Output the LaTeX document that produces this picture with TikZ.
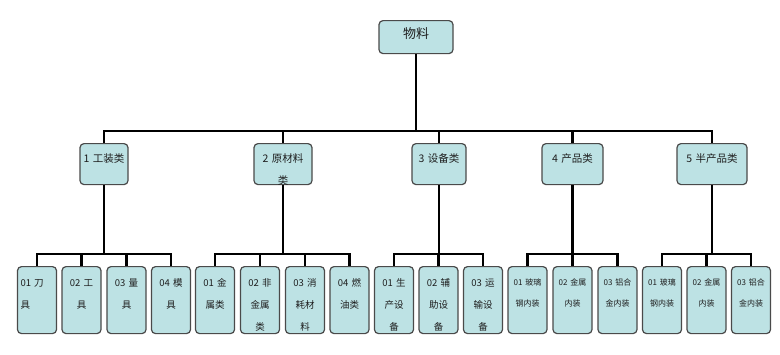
\documentclass[tikz,border=0pt]{standalone}
\usepackage{fontspec}
\setmainfont{Liberation Sans}
\newfontfamily\cjk{Noto Sans CJK SC}
\definecolor{boxblue}{HTML}{BDE2E4}
\definecolor{boxline}{HTML}{4A4A4A}
\definecolor{boxtext}{HTML}{1E1E1E}

\begin{document}
\begin{tikzpicture}[x=1pt,y=-1pt,
    box/.style={draw=boxline, fill=boxblue, line width=1.2pt, rounded corners=4pt,
      text=boxtext, align=center, inner xsep=1pt, inner ysep=0pt, anchor=north},
    rootbox/.style={box, text width=72pt, text height=17.5pt, text depth=15.5pt,
      font=\cjk\fontsize{13}{15}\selectfont},
    catbox/.style={box, text height=19pt, text depth=22pt,
      font=\cjk\fontsize{10.5}{22}\selectfont},
    leafbox/.style={box, text width=37pt, text height=20pt, text depth=47pt,
      font=\cjk\fontsize{9.5}{22}\selectfont},
    smallleaf/.style={leafbox, text height=19pt, text depth=48pt,
      font=\cjk\fontsize{8}{21}\selectfont},
    wire/.style={draw=black, line width=2.4pt}]
  \useasboundingbox (0,0) rectangle (780,354);

  % top
  \node[rootbox] (root) at (416,20) {物料};

  % categories
  \node[catbox, text width=46pt] (k1) at (104,143) {1 工装类};
  \node[catbox, text width=56pt] (k2) at (283,143) {2 原材料\\类};
  \node[catbox, text width=52pt] (k3) at (439,143) {3 设备类};
  \node[catbox, text width=59pt] (k4) at (572.5,143) {4 产品类};
  \node[catbox, text width=68pt] (k5) at (712,143) {5 半产品类};

  % leaves
  \node[leafbox, align=left, text width=33pt, inner xsep=3pt] (k1a) at (37,266) {01 刀\\具};
  \node[leafbox] (k1b) at (81.5,266) {02 工\\具};
  \node[leafbox] (k1c) at (126.5,266) {03 量\\具};
  \node[leafbox] (k1d) at (171,266) {04 模\\具};

  \node[leafbox] (k2a) at (215,266) {01 金\\属类};
  \node[leafbox] (k2b) at (260,266) {02 非\\金属\\类};
  \node[leafbox] (k2c) at (305,266) {03 消\\耗材\\料};
  \node[leafbox] (k2d) at (349.5,266) {04 燃\\油类};

  \node[leafbox] (k3a) at (394,266) {01 生\\产设\\备};
  \node[leafbox] (k3b) at (438.5,266) {02 辅\\助设\\备};
  \node[leafbox] (k3c) at (483,266) {03 运\\输设\\备};

  \node[smallleaf] (k4a) at (527.5,266) {01 玻璃\\钢内装};
  \node[smallleaf] (k4b) at (572.5,266) {02 金属\\内装};
  \node[smallleaf] (k4c) at (617.5,266) {03 铝合\\金内装};

  \node[smallleaf] (k5a) at (662,266) {01 玻璃\\钢内装};
  \node[smallleaf] (k5b) at (706.5,266) {02 金属\\内装};
  \node[smallleaf] (k5c) at (751,266) {03 铝合\\金内装};

  % connectors
  \draw[wire] (root.south) -- ++(0,77) -| (k1.north);
  \draw[wire] (root.south) -- ++(0,77) -| (k2.north);
  \draw[wire] (root.south) -- ++(0,77) -| (k3.north);
  \draw[wire] (root.south) -- ++(0,77) -| (k4.north);
  \draw[wire] (root.south) -- ++(0,77) -| (k5.north);

  \draw[wire] (k1.south) -- ++(0,69) -| (k1a.north);
  \draw[wire] (k1.south) -- ++(0,69) -| (k1b.north);
  \draw[wire] (k1.south) -- ++(0,69) -| (k1c.north);
  \draw[wire] (k1.south) -- ++(0,69) -| (k1d.north);

  \draw[wire] (k2.south) -- ++(0,69) -| (k2a.north);
  \draw[wire] (k2.south) -- ++(0,69) -| (k2b.north);
  \draw[wire] (k2.south) -- ++(0,69) -| (k2c.north);
  \draw[wire] (k2.south) -- ++(0,69) -| (k2d.north);

  \draw[wire] (k3.south) -- ++(0,69) -| (k3a.north);
  \draw[wire] (k3.south) -- ++(0,69) -| (k3b.north);
  \draw[wire] (k3.south) -- ++(0,69) -| (k3c.north);

  \draw[wire] (k4.south) -- ++(0,69) -| (k4a.north);
  \draw[wire] (k4.south) -- ++(0,69) -| (k4b.north);
  \draw[wire] (k4.south) -- ++(0,69) -| (k4c.north);

  \draw[wire] (k5.south) -- ++(0,69) -| (k5a.north);
  \draw[wire] (k5.south) -- ++(0,69) -| (k5b.north);
  \draw[wire] (k5.south) -- ++(0,69) -| (k5c.north);
\end{tikzpicture}
\end{document}
